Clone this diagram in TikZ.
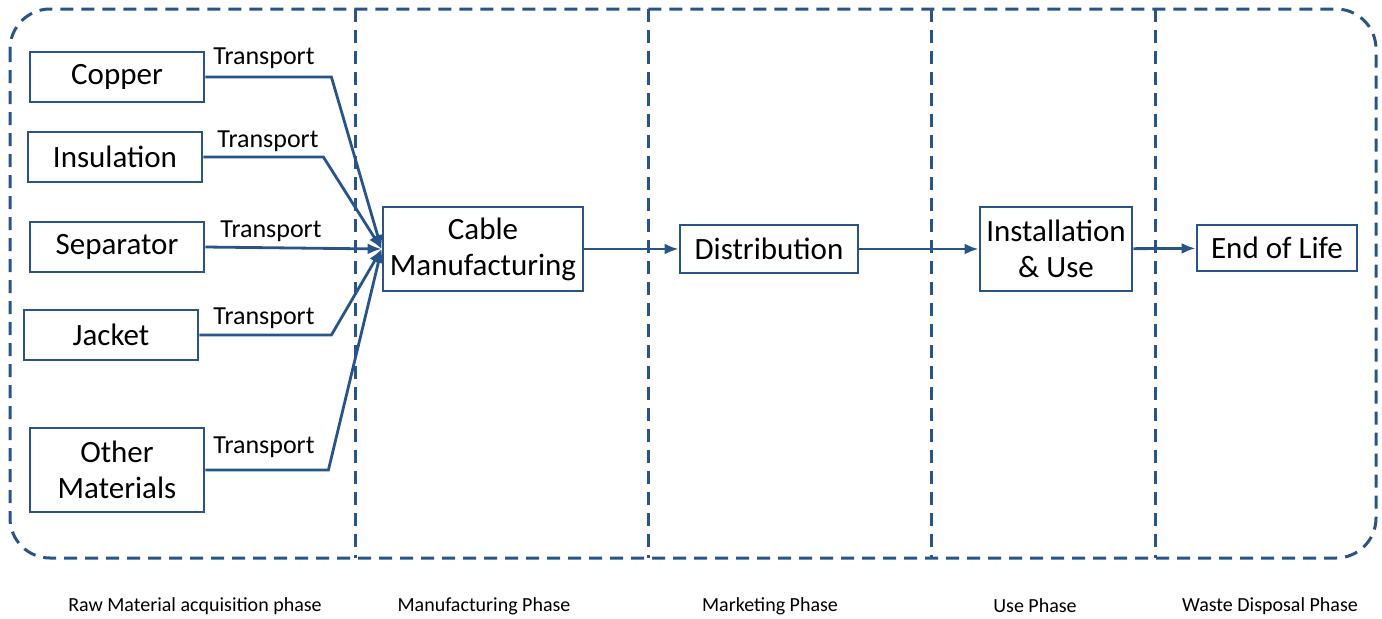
\documentclass[tikz,border=0pt]{standalone}
\usepackage{fontspec}
\setmainfont{Carlito}
\usepackage{tikz}
\usetikzlibrary{arrows.meta, positioning}
\definecolor{lineblue}{RGB}{41,84,138}
\tikzset{
	box/.style={draw=lineblue, line width=1.4pt, align=center, inner sep=2pt, font=\fontsize{15.5}{18}\selectfont},
	flow/.style={draw=lineblue, line width=1.4pt, -{Latex[length=7pt,width=5.5pt]}},
	phase/.style={draw=lineblue, line width=1.5pt, dash pattern=on 6.5pt off 4pt},
	tlabel/.style={font=\fontsize{13}{15}\selectfont},
	plabel/.style={font=\fontsize{10}{12}\selectfont}
}

\begin{document}
\begin{tikzpicture}[x=0.5pt,y=-0.5pt]
	\useasboundingbox (0,0) rectangle (1382,618);
	% phase frame
	\draw[phase, rounded corners=20pt] (10,9) rectangle (1376,558);
	\foreach \x in {355,648,931,1155}
		\draw[phase] (\x,9) -- (\x,558);
	% raw materials
	\node[box, minimum width=87pt, minimum height=25pt] (copper) at (117,77) {Copper};
	\node[box, minimum width=87pt, minimum height=25pt] (insulation) at (115,157) {Insulation};
	\node[box, minimum width=87pt, minimum height=25pt] (separator) at (117,247) {Separator};
	\node[box, minimum width=87pt, minimum height=25pt] (jacket) at (111,335) {Jacket};
	\node[box, minimum width=87pt, minimum height=42pt] (other) at (117,470) {Other\\Materials};
	% process chain
	\node[box, minimum width=100pt, minimum height=42pt] (cable) at (483,249) {Cable\\Manufacturing};
	\node[box, minimum width=89pt, minimum height=24pt] (distribution) at (769,249) {Distribution};
	\node[box, minimum width=76pt, minimum height=42pt] (install) at (1056,249) {Installation\\\& Use};
	\node[box, minimum width=80pt, minimum height=23pt] (eol) at (1277,248) {End of Life};
	% transport
	\node[tlabel] (t1) at (264,58) {Transport};
	\node[tlabel] (t2) at (268,141) {Transport};
	\node[tlabel] (t3) at (271,231) {Transport};
	\node[tlabel] (t4) at (264,318) {Transport};
	\node[tlabel] (t5) at (264,447) {Transport};
	\draw[flow] (copper.east) -- ++(126,0) -- (cable.west);
	\draw[flow] (insulation.east) -- ++(120,0) -- (cable.west);
	\draw[flow] (separator.east) -- (cable.west);
	\draw[flow] (jacket.east) -- ++(132,0) -- (cable.west);
	\draw[flow] (other.east) -- ++(123,0) -- (cable.west);
	\draw[flow] (cable) -- (distribution);
	\draw[flow] (distribution) -- (install);
	\draw[flow] (install) -- (eol);
	% phase names
	\node[plabel] (p1) at (195,606) {Raw Material acquisition phase};
	\node[plabel] (p2) at (484,606) {Manufacturing Phase};
	\node[plabel] (p3) at (770,606) {Marketing Phase};
	\node[plabel] (p4) at (1035,606) {Use Phase};
	\node[plabel] (p5) at (1270,606) {Waste Disposal Phase};
\end{tikzpicture}
\end{document}
